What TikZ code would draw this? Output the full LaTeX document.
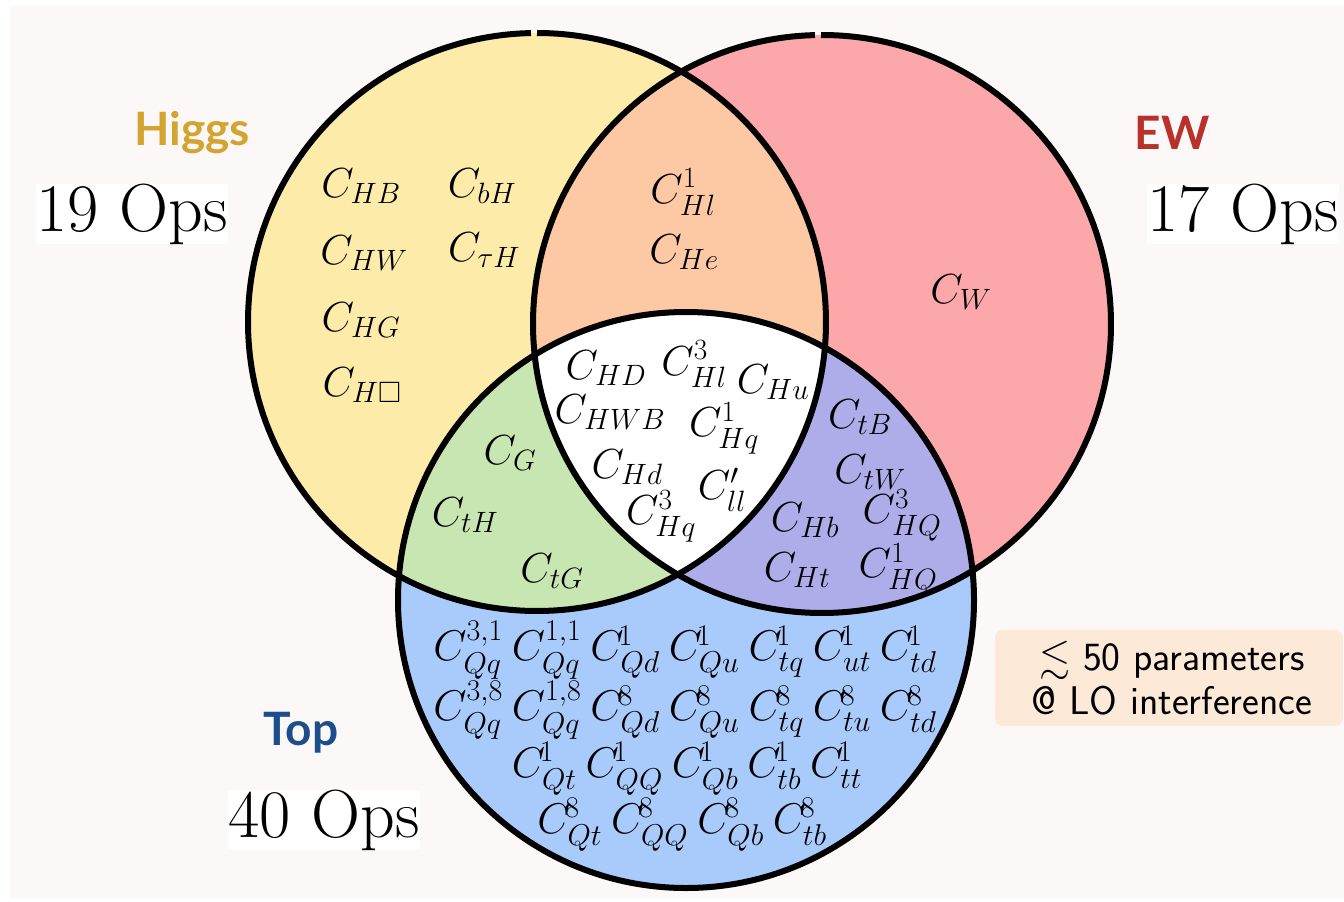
\RequirePackage{fix-cm}
\documentclass[tikz,border=0pt]{standalone}
\usepackage{amssymb}
\usepackage[no-math]{fontspec}
\newfontfamily\groupfont{Lato}

\definecolor{cbg}{HTML}{FCF8F7}
\definecolor{cyel}{HTML}{FDEBAA}
\definecolor{cred}{HTML}{FCA7A9}
\definecolor{corange}{HTML}{FDC9A5}
\definecolor{cgreen}{HTML}{C7E6B2}
\definecolor{cpurple}{HTML}{AEADE9}
\definecolor{cblue}{HTML}{A9CBFB}
\definecolor{cbox}{HTML}{FCE9D7}
\definecolor{chiggs}{HTML}{D4A431}
\definecolor{cew}{HTML}{B8312B}
\definecolor{ctop}{HTML}{1B4E8A}

\newcommand{\hrad}{289pt}
\newcommand{\erad}{289pt}
\newcommand{\trad}{288pt}
% four-fermion coefficient with a tucked-in single superscript
\newcommand{\fc}[2]{C^{\kern-0.12em #1}_{#2}}
% gap between coefficients in a row
\newcommand{\gp}{\hspace{9pt}}

\tikzset{
  ring/.style={draw=black, line width=6pt},
  opm/.style={font=\fontsize{42}{50}\selectfont, inner sep=0pt},
  opb/.style={font=\fontsize{43}{48}\selectfont, inner sep=0pt},
  count/.style={font=\fontsize{68}{74}\selectfont, fill=white, inner sep=0pt},
  group/.style={font=\groupfont\bfseries\fontsize{46}{52}\selectfont, inner sep=0pt, anchor=base},
  note/.style={font=\sffamily\fontsize{40}{44}\selectfont, align=center, inner sep=0pt}
}

\begin{document}
\begin{tikzpicture}[x=1pt, y=-1pt]
  % canvas
  \useasboundingbox (0,0) rectangle (1344,902);
  \fill[white] (0,0) rectangle (1344,902);
  \fill[cbg] (10,6) rectangle (1344,898);

  % circle centres
  \coordinate (hc) at (537,322);
  \coordinate (ec) at (822,324);
  \coordinate (tc) at (686,600);

  % region fills
  \fill[cyel] (hc) circle[radius=\hrad];
  \fill[cred] (ec) circle[radius=\erad];
  \fill[cblue] (tc) circle[radius=\trad];
  \begin{scope}
    \clip (hc) circle[radius=\hrad];
    \fill[corange] (ec) circle[radius=\erad];
    \fill[cgreen] (tc) circle[radius=\trad];
  \end{scope}
  \begin{scope}
    \clip (ec) circle[radius=\erad];
    \fill[cpurple] (tc) circle[radius=\trad];
  \end{scope}
  \begin{scope}
    \clip (hc) circle[radius=\hrad];
    \clip (ec) circle[radius=\erad];
    \fill[white] (tc) circle[radius=\trad];
  \end{scope}

  % outlines
  \draw[ring] (hc) ++(91.2:\hrad) arc[start angle=91.2, end angle=450, radius=\hrad];
  \draw[ring] (ec) ++(91.4:\erad) arc[start angle=91.4, end angle=450.2, radius=\erad];
  \draw[ring] (tc) circle[radius=\trad];

  % group titles and counts
  \node[group, text=chiggs] (lhiggs) at (192,145) {Higgs};
  \node[group, text=cew] (lew) at (1172,149) {EW};
  \node[group, text=ctop] (ltop) at (301,745) {Top};
  \node[count] (nhiggs) at (132,214) {19 Ops};
  \node[count] (new) at (1243,214) {17 Ops};
  \node[count] (ntop) at (324,820) {40 Ops};

  % Higgs only
  \node[opm] (chb) at (361,186) {$C_{HB}$};
  \node[opm] (chw) at (364,253) {$C_{HW}$};
  \node[opm] (chg) at (361,320) {$C_{HG}$};
  \node[opm] (chbox) at (362,385) {$C_{H\Box}$};
  \node[opm] (cbh) at (482,186) {$C_{bH}$};
  \node[opm] (ctauh) at (484,250) {$C_{\tau H}$};

  % Higgs and EW
  \node[opm] (chl1) at (683,192) {$C^{1}_{Hl}$};
  \node[opm] (che) at (684,252) {$C_{He}$};

  % EW only
  \node[opm] (cw) at (961,292) {$C_{W}$};

  % all three
  \node[opm] (chd) at (606,368) {$C_{HD}$};
  \node[opm] (chl3) at (694,364) {$C^{3}_{Hl}$};
  \node[opm] (chu) at (773,382) {$C_{Hu}$};
  \node[opm] (chwb) at (610,412) {$C_{HWB}$};
  \node[opm] (chq1) at (724,428) {$C^{1}_{Hq}$};
  \node[opm] (chdd) at (627,467) {$C_{Hd}$};
  \node[opm] (cll) at (722,490) {$C'_{ll}$};
  \node[opm] (chq3) at (661,516) {$C^{3}_{Hq}$};

  % Higgs and Top
  \node[opm] (cg) at (510,453) {$C_{G}$};
  \node[opm] (cth) at (465,515) {$C_{tH}$};
  \node[opm] (ctg) at (552,571) {$C_{tG}$};

  % EW and Top
  \node[opm] (ctb) at (860,417) {$C_{tB}$};
  \node[opm] (ctw) at (870,472) {$C_{tW}$};
  \node[opm] (chb2) at (805,520) {$C_{Hb}$};
  \node[opm] (chq3b) at (902,515) {$C^{3}_{HQ}$};
  \node[opm] (cht) at (797,570) {$C_{Ht}$};
  \node[opm] (chq1b) at (898,569) {$C^{1}_{HQ}$};

  % Top only
  \node[opb] (trow1) at (685,650) {$C^{3,1}_{Qq}\gp C^{1,1}_{Qq}\gp\fc{1}{Qd}\gp\fc{1}{Qu}\gp\fc{1}{tq}\gp\fc{1}{ut}\gp\fc{1}{td}$};
  \node[opb] (trow2) at (685,710) {$C^{3,8}_{Qq}\gp C^{1,8}_{Qq}\gp\fc{8}{Qd}\gp\fc{8}{Qu}\gp\fc{8}{tq}\gp\fc{8}{tu}\gp\fc{8}{td}$};
  \node[opb] (trow3) at (687,769) {$\fc{1}{Qt}\gp\fc{1}{QQ}\gp\fc{1}{Qb}\gp\fc{1}{tb}\gp\fc{1}{tt}$};
  \node[opb] (trow4) at (682,825) {$\fc{8}{Qt}\gp\fc{8}{QQ}\gp\fc{8}{Qb}\gp\fc{8}{tb}$};

  % summary box
  \fill[cbox, rounded corners=8pt] (995,630) rectangle (1343,726);
  \node[note] (summary) at (1172,678) {$\lesssim$ 50 parameters\\@ LO interference};
\end{tikzpicture}
\end{document}
